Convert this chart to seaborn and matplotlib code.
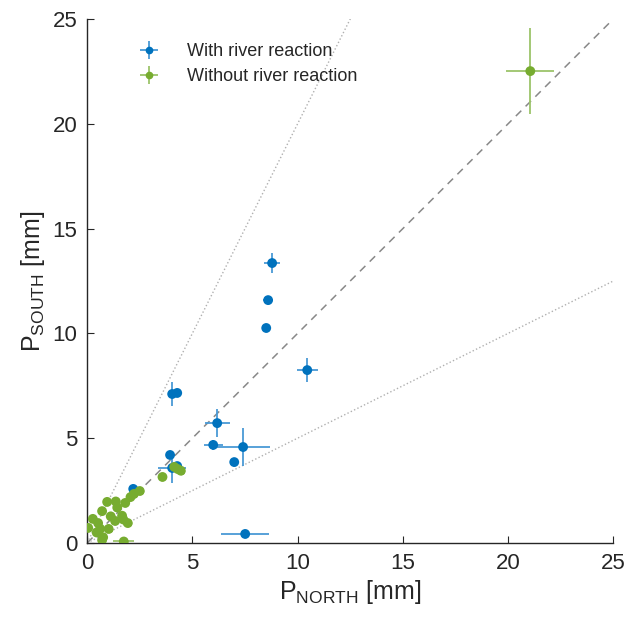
import matplotlib
matplotlib.use('Agg')
import matplotlib.pyplot as plt
import seaborn as sb
import numpy as np
import pandas as pd

# with river reaction
with_x = [8.79, 8.60, 8.51, 10.46, 4.04, 4.28, 6.18, 5.99, 7.41, 6.99, 3.94, 4.04, 4.28, 2.19, 7.51]
with_y = [13.36, 11.59, 10.26, 8.25, 7.11, 7.16, 5.72, 4.68, 4.58, 3.86, 4.20, 3.58, 3.67, 2.58, 0.43]
with_xerr = [0.38, 0.25, 0.12, 0.50, 0.15, 0.12, 0.60, 0.45, 1.30, 0.10, 0.08, 0.65, 0.15, 0.10, 1.15]
with_yerr = [0.48, 0.15, 0.10, 0.57, 0.55, 0.10, 0.65, 0.25, 0.90, 0.10, 0.10, 0.70, 0.10, 0.08, 0.08]

# without river reaction
without_x = [21.06, 0.05, 0.27, 0.71, 0.95, 1.36, 1.43, 1.81, 2.06, 2.22, 2.50, 1.12, 1.33,
             1.66, 1.72, 1.93, 0.52, 0.62, 0.45, 1.02, 0.76, 0.71, 1.74, 3.58, 4.14, 4.30, 4.45]
without_y = [22.52, 0.72, 1.15, 1.52, 1.96, 1.98, 1.69, 1.91, 2.19, 2.34, 2.48, 1.27, 1.05,
             1.30, 1.12, 0.95, 0.95, 0.68, 0.50, 0.67, 0.27, 0.14, 0.07, 3.15, 3.63, 3.53, 3.45]
without_xerr = [1.15, 0.05, 0.05, 0.05, 0.05, 0.05, 0.05, 0.05, 0.05, 0.05, 0.15, 0.05, 0.05,
                0.05, 0.05, 0.05, 0.05, 0.05, 0.05, 0.05, 0.05, 0.05, 0.50, 0.05, 0.05, 0.05, 0.05]
without_yerr = [2.05, 0.05, 0.05, 0.05, 0.05, 0.05, 0.05, 0.05, 0.05, 0.05, 0.10, 0.05, 0.05,
                0.05, 0.05, 0.05, 0.05, 0.05, 0.05, 0.05, 0.05, 0.05, 0.05, 0.05, 0.05, 0.05, 0.05]

labels = ['With river reaction', 'Without river reaction']
blue = '#0072BD'
green = '#77AC30'

sb.set_style('ticks')
plt.rcParams['font.family'] = ['Liberation Sans', 'DejaVu Sans']
plt.rcParams['mathtext.fontset'] = 'custom'
plt.rcParams['mathtext.rm'] = 'Liberation Sans'

df = pd.DataFrame({
    'x': with_x + without_x,
    'y': with_y + without_y,
    'group': [labels[0]] * len(with_x) + [labels[1]] * len(without_x),
})

fig = plt.figure(figsize=(6.27, 6.17), dpi=100)
ax = fig.add_axes([0.139, 0.12, 0.839, 0.849])

ref = np.array([0, 25])
ax.plot(ref, ref, color='#888888', ls=(0, (5, 4)), lw=1.1, zorder=1)
ax.plot(ref, 2 * ref, color='#b0b0b0', ls=':', lw=1.0, zorder=1)
ax.plot(ref, 0.5 * ref, color='#b0b0b0', ls=':', lw=1.0, zorder=1)

h1 = ax.errorbar(with_x, with_y, xerr=with_xerr, yerr=with_yerr, fmt='o', ms=4.5,
                 color=blue, ecolor='#4a9ad6', elinewidth=1.3, capsize=0, label=labels[0], zorder=2)
h2 = ax.errorbar(without_x, without_y, xerr=without_xerr, yerr=without_yerr, fmt='o', ms=4.5,
                 color=green, ecolor='#9cc46a', elinewidth=1.3, capsize=0, label=labels[1], zorder=2)

sb.scatterplot(data=df, x='x', y='y', hue='group', palette=[blue, green], s=50,
               edgecolor='none', legend=False, ax=ax, zorder=3)

ax.set_xlim(0, 25)
ax.set_ylim(0, 25)
ax.set_xticks([0, 5, 10, 15, 20, 25])
ax.set_yticks([0, 5, 10, 15, 20, 25])
ax.tick_params(direction='in', length=5, labelsize=16, colors='#262626', pad=7)
for s in ['top', 'right']:
    ax.spines[s].set_visible(False)
for s in ['left', 'bottom']:
    ax.spines[s].set_color('#262626')
    ax.spines[s].set_linewidth(1.0)

ax.set_xlabel(r'P$_{\mathrm{NORTH}}$ [mm]', fontsize=18, color='#262626', labelpad=3)
ax.set_ylabel(r'P$_{\mathrm{SOUTH}}$ [mm]', fontsize=18, color='#262626', labelpad=4)

ax.legend(handles=[h1, h2], loc='upper left', bbox_to_anchor=(0.035, 0.985), frameon=False,
          fontsize=13, handlelength=3.0, handletextpad=0.6, labelspacing=0.45)

fig.savefig('out.png', dpi=100)
